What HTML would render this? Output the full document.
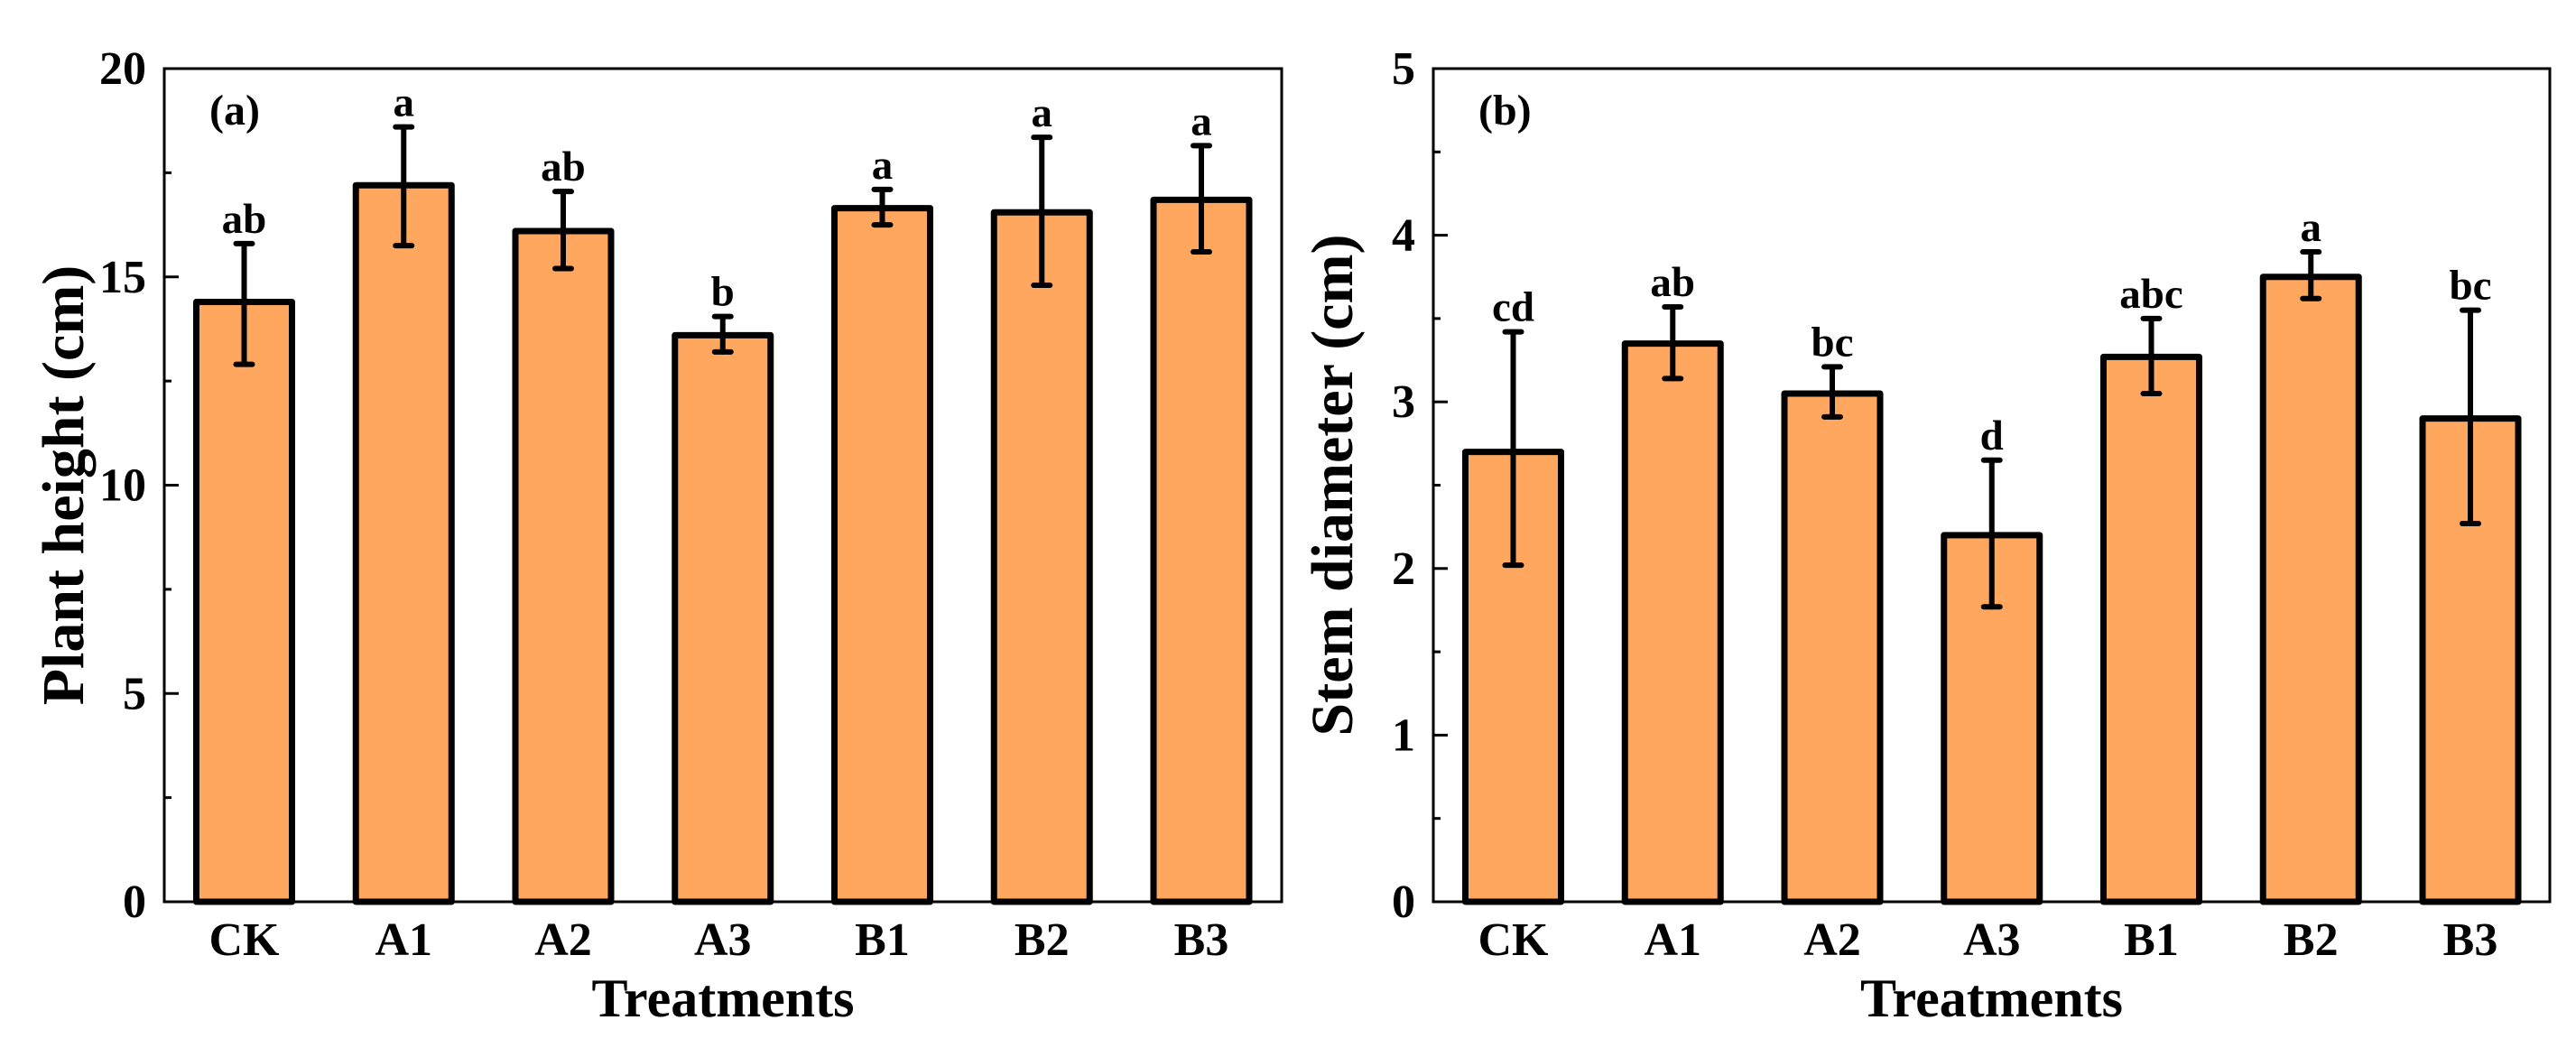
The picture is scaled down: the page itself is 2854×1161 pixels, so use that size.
<!DOCTYPE html>
<html><head><meta charset="utf-8"><style>
html,body{margin:0;padding:0;background:#fff}
svg{display:block}
text{font-family:"Liberation Serif",serif;font-weight:bold;fill:#000}
</style></head><body>
<svg id="fig" width="2854" height="1161" viewBox="0 0 2854 1161" xmlns="http://www.w3.org/2000/svg"></svg>
<script>
const categories = ["CK","A1","A2","A3","B1","B2","B3"];
const heightMeans = [14.4,17.2,16.1,13.6,16.65,16.55,16.85];
const heightErrLow = [12.9,15.75,15.2,13.2,16.25,14.8,15.6];
const heightErrHigh = [15.8,18.6,17.05,14.05,17.1,18.35,18.15];
const heightLetters = ["ab","a","ab","b","a","a","a"];
const heightTicks = [0,5,10,15,20];
const diamMeans = [2.7,3.35,3.05,2.2,3.27,3.75,2.9];
const diamErrLow = [2.02,3.14,2.91,1.77,3.05,3.62,2.27];
const diamErrHigh = [3.42,3.57,3.21,2.65,3.5,3.9,3.55];
const diamLetters = ["cd","ab","bc","d","abc","a","bc"];
const diamTicks = [0,1,2,3,4,5];

const NS="http://www.w3.org/2000/svg";
const svg=document.getElementById('fig');
function el(tag,attrs,parent,txt){const e=document.createElementNS(NS,tag);for(const k in attrs)e.setAttribute(k,attrs[k]);if(txt!==undefined)e.textContent=txt;(parent||svg).appendChild(e);return e;}

function panel(opt){
  const g=el('g',{});
  
  
  const L=opt.x0,R=opt.x1,T=76,B=999;
  const ymax=opt.ticks[opt.ticks.length-1];
  const y=v=>B-(v/ymax)*(B-T);
  const x=i=>L+88.5+i*176.75;
  const bw=106;
  opt.means.forEach((m,i)=>{
    const r=el('rect',{x:x(i)-bw/2,y:y(m),width:bw,height:B-y(m),fill:'#FFA65F',stroke:'#000','stroke-width':7,'stroke-linejoin':'round'},g);
    
    
  });
  opt.means.forEach((m,i)=>{
    const eg=el('g',{stroke:'#000','stroke-width':6,'stroke-linecap':'round'},g);
    
    
    el('line',{x1:x(i),x2:x(i),y1:y(opt.lo[i]),y2:y(opt.hi[i])},eg);
    el('line',{x1:x(i)-9,x2:x(i)+9,y1:y(opt.lo[i]),y2:y(opt.lo[i])},eg);
    el('line',{x1:x(i)-9,x2:x(i)+9,y1:y(opt.hi[i]),y2:y(opt.hi[i])},eg);
    const t=el('text',{x:x(i),y:y(opt.hi[i])-12,'text-anchor':'middle','font-size':47},g,opt.letters[i]);
    
    
  });
  const f=el('rect',{x:L,y:T,width:R-L,height:B-T,fill:'none',stroke:'#000','stroke-width':3},g);
  
  
  opt.ticks.forEach((v,k)=>{
    el('line',{x1:L,x2:L+16,y1:y(v),y2:y(v),stroke:'#000','stroke-width':3},g);
    if(k<opt.ticks.length-1){const mv=(v+opt.ticks[k+1])/2;el('line',{x1:L,x2:L+8,y1:y(mv),y2:y(mv),stroke:'#000','stroke-width':3},g);}
    const t=el('text',{x:L-20,y:y(v)+17,'text-anchor':'end','font-size':52},g,String(v));
    
    
  });
  categories.forEach((c,i)=>{
    const t=el('text',{x:x(i),y:1058,'text-anchor':'middle','font-size':52},g,c);
    
    
  });
  const xt=el('text',{x:(L+R)/2,y:1126,'text-anchor':'middle','font-size':60},g,'Treatments');
  
  
  const cy=(T+B)/2;
  const tx=L-90;
  const yt=el('text',{x:tx,y:cy,'text-anchor':'middle','font-size':66,transform:'rotate(-90 '+tx+' '+cy+')'},g,opt.ytitle);
  
  
  const pl=el('text',{x:L+50,y:138,'font-size':48},g,opt.label);
  
  
}
panel({name:'plant-height-chart',x0:182,x1:1420,ticks:heightTicks,means:heightMeans,lo:heightErrLow,hi:heightErrHigh,letters:heightLetters,ytitle:'Plant height (cm)',label:'(a)'});
panel({name:'stem-diameter-chart',x0:1588,x1:2825,ticks:diamTicks,means:diamMeans,lo:diamErrLow,hi:diamErrHigh,letters:diamLetters,ytitle:'Stem diameter (cm)',label:'(b)'});
</script>
</body></html>
